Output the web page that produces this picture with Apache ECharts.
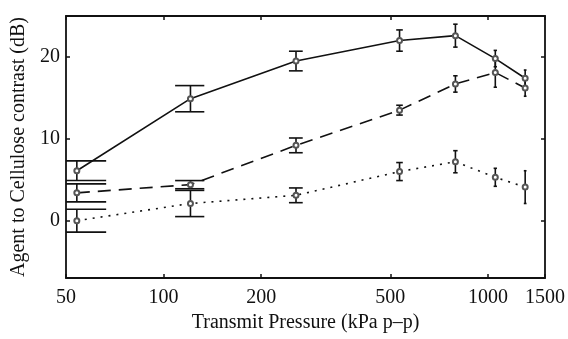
<!DOCTYPE html>
<html>
<head>
<meta charset="utf-8">
<script src="https://cdn.jsdelivr.net/npm/echarts@6/dist/echarts.min.js"></script>
<style>html,body{margin:0;padding:0;background:#fff;}#c{width:568px;height:339px;}</style>
</head>
<body>
<div id="c"></div>
<script>
// ---- data ----
const pressure = [54, 121, 256, 534, 794, 1054, 1303];          // kPa p-p
const solidMean = [6.1, 14.9, 19.5, 22.0, 22.6, 19.8, 17.4];
const solidErr  = [1.2, 1.6, 1.2, 1.3, 1.4, 1.0, 1.0];
const dashedMean = [3.4, 4.4, 9.2, 13.5, 16.7, 18.1, 16.2];
const dashedErr  = [1.1, 0.5, 0.9, 0.6, 1.0, 1.8, 1.0];
const dottedMean = [0.0, 2.1, 3.1, 6.0, 7.2, 5.3, 4.1];
const dottedErr  = [1.4, 1.6, 0.9, 1.1, 1.35, 1.1, 2.0];
const xTicks = [50, 100, 200, 500, 1000, 1500];
const yTicks = [0, 10, 20];

// ---- build ----
const L = Math.log10;
const capHalf = 12.5; // kPa, constant cap half-width in data units
const font = 'Liberation Serif';

function lineData(mean) { return pressure.map((p, i) => [L(p), mean[i]]); }
function errData(mean, err) {
  return pressure.map((p, i) => [L(p), mean[i] - err[i], mean[i] + err[i], L(Math.max(p - capHalf, 1)), L(p + capHalf)]);
}
function errSeries(mean, err) {
  return {
    type: 'custom',
    data: errData(mean, err),
    z: 3,
    renderItem: function (params, api) {
      const cs = params.coordSys;
      const x = api.coord([api.value(0), 0])[0];
      const yl = api.coord([api.value(0), api.value(1)])[1];
      const yh = api.coord([api.value(0), api.value(2)])[1];
      let xl = api.coord([api.value(3), 0])[0];
      let xr = api.coord([api.value(4), 0])[0];
      xl = Math.max(xl, cs.x); xr = Math.min(xr, cs.x + cs.width);
      const st = { stroke: '#111', lineWidth: 1.6 };
      return { type: 'group', children: [
        { type: 'line', shape: { x1: x, y1: yl, x2: x, y2: yh }, style: st },
        { type: 'line', shape: { x1: xl, y1: yl, x2: xr, y2: yl }, style: st },
        { type: 'line', shape: { x1: xl, y1: yh, x2: xr, y2: yh }, style: st }
      ]};
    }
  };
}
function lineSeries(mean, type) {
  return {
    type: 'line', data: lineData(mean), z: 4,
    symbol: 'emptyCircle', symbolSize: 5,
    itemStyle: { color: '#555', borderColor: '#444', borderWidth: 1 },
    lineStyle: { color: '#111', width: 1.6, type: type, cap: 'butt' },
    animation: false
  };
}

const xMin = L(50), xMax = L(1500);
const axisLine = { show: true, onZero: false, lineStyle: { color: '#111', width: 1.8 } };
const tick = (vals) => ({ show: true, inside: true, length: 4, lineStyle: { color: '#111', width: 1.5 }, customValues: vals });
const chart = echarts.init(document.getElementById('c'), null, { renderer: 'canvas' });
chart.setOption({
  animation: false,
  backgroundColor: '#fff',
  grid: { left: 66, right: 20, top: 16, bottom: 61 },
  xAxis: [{
    type: 'value', min: xMin, max: xMax, position: 'bottom',
    axisLine: axisLine,
    axisTick: tick(xTicks.map(L)),
    axisLabel: { customValues: xTicks.map(L), formatter: v => String(Math.round(Math.pow(10, v))), color: '#111', fontFamily: font, fontSize: 20, margin: 10 },
    splitLine: { show: false },
    name: 'Transmit Pressure (kPa p\u2013p)', nameLocation: 'middle', nameGap: 35,
    nameTextStyle: { color: '#111', fontFamily: font, fontSize: 20 }
  }, {
    type: 'value', min: xMin, max: xMax, position: 'top',
    axisLine: axisLine,
    axisTick: tick(xTicks.map(L)),
    axisLabel: { show: false }, splitLine: { show: false }
  }],
  yAxis: [{
    type: 'value', min: -7, max: 25, position: 'left',
    axisLine: axisLine,
    axisTick: tick(yTicks),
    axisLabel: { customValues: yTicks, color: '#111', fontFamily: font, fontSize: 20, margin: 6 },
    splitLine: { show: false },
    name: 'Agent to Cellulose contrast (dB)', nameLocation: 'middle', nameGap: 34, nameRotate: 90,
    nameTextStyle: { color: '#111', fontFamily: font, fontSize: 20 }
  }, {
    type: 'value', min: -7, max: 25, position: 'right',
    axisLine: axisLine,
    axisTick: tick(yTicks),
    axisLabel: { show: false }, splitLine: { show: false }
  }],
  series: [
    errSeries(solidMean, solidErr),
    errSeries(dashedMean, dashedErr),
    errSeries(dottedMean, dottedErr),
    lineSeries(solidMean, 'solid'),
    lineSeries(dashedMean, [13, 8]),
    lineSeries(dottedMean, [2, 6])
  ]
});
</script>
</body>
</html>
